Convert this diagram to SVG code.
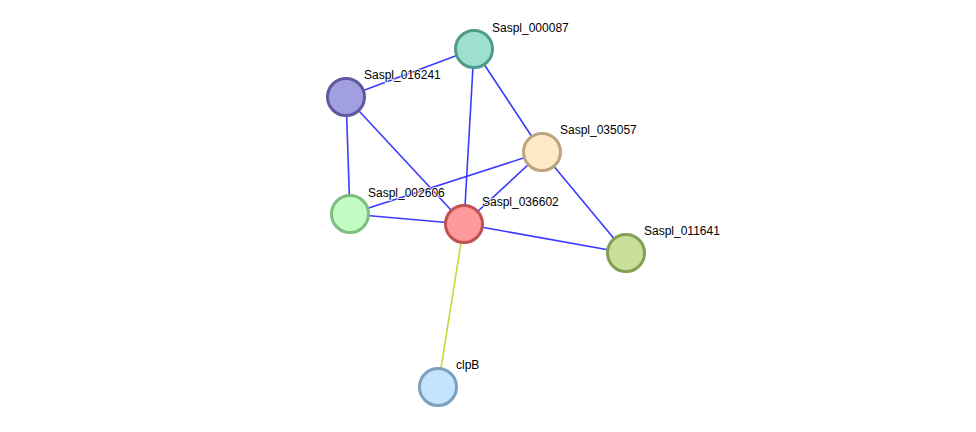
<svg xmlns="http://www.w3.org/2000/svg" width="976" height="432" viewBox="0 0 976 432">
<style>
.e{stroke:#3a3aff;stroke-width:1.6;fill:none}
.y{stroke:#c6d83c;stroke-width:1.6;fill:none}
.n{stroke-width:3}
text{font-family:"Liberation Sans",Arial,sans-serif;font-size:12px;fill:#000;stroke:#fff;stroke-width:2;stroke-opacity:0.8;paint-order:stroke;stroke-linejoin:round}
</style>
<rect width="976" height="432" fill="#fff"/>
<g id="edges">
<line class="e" x1="346" y1="97" x2="474" y2="49"/>
<line class="e" x1="346" y1="97" x2="350" y2="214"/>
<line class="e" x1="346" y1="97" x2="464" y2="224"/>
<line class="e" x1="474" y1="49" x2="464" y2="224"/>
<line class="e" x1="474" y1="49" x2="542" y2="152"/>
<line class="e" x1="542" y1="152" x2="350" y2="214"/>
<line class="e" x1="542" y1="152" x2="464" y2="224"/>
<line class="e" x1="542" y1="152" x2="626" y2="253"/>
<line class="e" x1="350" y1="214" x2="464" y2="224"/>
<line class="e" x1="464" y1="224" x2="626" y2="253"/>
<line class="y" x1="464" y1="224" x2="438" y2="387"/>
</g>
<g id="Saspl_000087"><circle class="n" cx="474" cy="49" r="18.5" fill="#9ee0d0" stroke="#4f9b8a"/><text x="492" y="32">Saspl_000087</text></g>
<g id="Saspl_016241"><circle class="n" cx="346" cy="97" r="18.5" fill="#a29fe0" stroke="#5e589e"/><text x="364" y="79">Saspl_016241</text></g>
<g id="Saspl_035057"><circle class="n" cx="542" cy="152" r="18.5" fill="#feeac6" stroke="#bba57e"/><text x="560" y="134">Saspl_035057</text></g>
<g id="Saspl_002606"><circle class="n" cx="350" cy="214" r="18.5" fill="#c2fcc2" stroke="#7dbd80"/><text x="368" y="197">Saspl_002606</text></g>
<g id="Saspl_036602"><circle class="n" cx="464" cy="224" r="18.5" fill="#ff9999" stroke="#c05252"/><text x="482" y="206">Saspl_036602</text></g>
<g id="Saspl_011641"><circle class="n" cx="626" cy="253" r="18.5" fill="#c8e09a" stroke="#859e55"/><text x="644" y="235">Saspl_011641</text></g>
<g id="clpB"><circle class="n" cx="438" cy="387" r="18.5" fill="#c4e4fd" stroke="#7c9fbf"/><text x="456" y="369">clpB</text></g>
</svg>
